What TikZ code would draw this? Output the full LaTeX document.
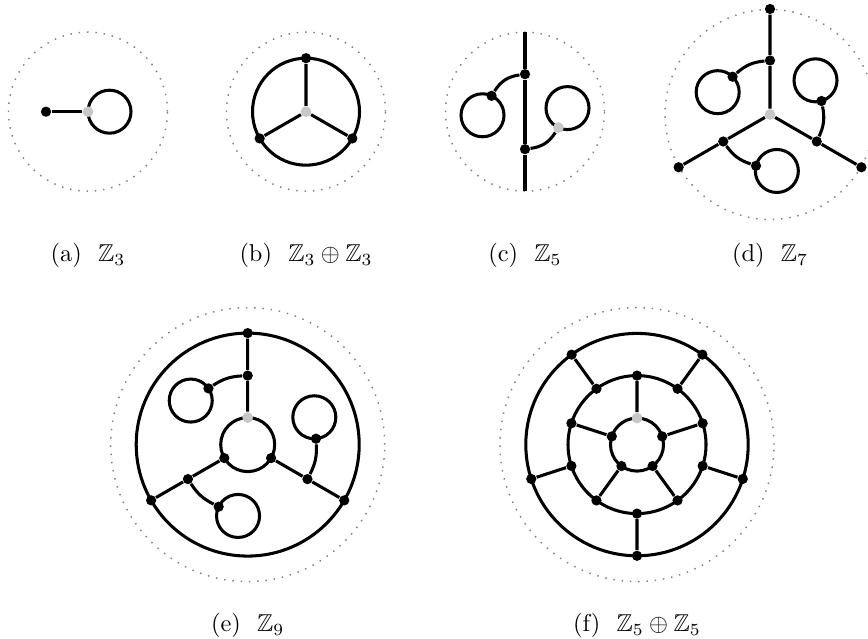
\documentclass[tikz,border=0pt]{standalone}
\usepackage{amssymb}
\begin{document}
\begin{tikzpicture}[
    x=0.41pt, y=0.41pt,
    vtx/.style={circle, fill=black, inner sep=0pt, minimum size=4.2pt},
    root/.style={circle, fill=black!22, inner sep=0pt, minimum size=4.4pt},
    edge/.style={line width=1.25pt},
    guide/.style={gray, line width=0.6pt, dash pattern=on 0.6pt off 2.8pt},
    subcap/.style={anchor=base, font=\normalsize}
  ]
  \useasboundingbox (0,0) rectangle (868,639);

  %% ── (a) Z_3 ──
  \coordinate (A) at (88,527.3);
  \draw[guide] (A) circle[radius=79.5];
  \draw[edge] ([shift={(21.5,0)}]A) circle[radius=21.5];
  \node[vtx]  (a1) at ([shift={(-42,0)}]A) {};
  \node[root] (a0) at (A) {};
  \draw[edge] (a1) -- (a0);
  \node[subcap] (capa) at (88,377) {(a)~~$\mathbb{Z}_3$};

  %% ── (b) Z_3 + Z_3 ──
  \coordinate (B) at (306,527.3);
  \draw[guide] (B) circle[radius=79.5];
  \draw[edge] (B) circle[radius=53.5];
  \node[root] (b0) at (B) {};
  \node[vtx]  (b1) at ([shift={(90:53.5)}]B) {};
  \node[vtx]  (b2) at ([shift={(210:53.5)}]B) {};
  \node[vtx]  (b3) at ([shift={(330:53.5)}]B) {};
  \draw[edge] (b0) -- (b1) (b0) -- (b2) (b0) -- (b3);
  \node[subcap] (capb) at (306,377) {(b)~~$\mathbb{Z}_3\oplus\mathbb{Z}_3$};

  %% ── (c) Z_5 ──
  \coordinate (C) at (525,527.3);
  \coordinate (ctop) at ([shift={(0,79.5)}]C);
  \coordinate (cbot) at ([shift={(0,-79.5)}]C);
  \coordinate (cl) at ([shift={(-42.5,-3.6)}]C);
  \coordinate (cr) at ([shift={(42.5,3.6)}]C);
  \draw[guide] (C) circle[radius=79.5];
  \draw[edge] (cl) circle[radius=21.5];
  \draw[edge] (cr) circle[radius=21.5];
  \node[vtx]  (c1) at ([shift={(0,37.5)}]C) {};
  \node[vtx]  (c2) at ([shift={(0,-37.5)}]C) {};
  \node[vtx]  (c3) at ([shift={(65:21.5)}]cl) {};
  \node[root] (c4) at ([shift={(245:21.5)}]cr) {};
  \draw[edge] (ctop) -- (c1) -- (c2) -- (cbot);
  \draw[edge] (c1) to[bend right=25] (c3);
  \draw[edge] (c2) to[bend right=25] (c4);
  \node[subcap] (capc) at (525,377) {(c)~~$\mathbb{Z}_5$};

  %% ── (d) Z_7 ──
  \coordinate (D) at (770,524.5);
  \coordinate (dl1) at ([shift={(156.9:56.9)}]D);
  \coordinate (dl2) at ([shift={(36.9:56.9)}]D);
  \coordinate (dl3) at ([shift={(276.9:56.9)}]D);
  \draw[guide] (D) circle[radius=105];
  \draw[edge] (dl1) circle[radius=21.5];
  \draw[edge] (dl2) circle[radius=21.5];
  \draw[edge] (dl3) circle[radius=21.5];
  \node[root] (d0) at (D) {};
  \node[vtx]  (d1) at ([shift={(90:105.5)}]D) {};
  \node[vtx]  (d2) at ([shift={(210:105.5)}]D) {};
  \node[vtx]  (d3) at ([shift={(330:105.5)}]D) {};
  \node[vtx]  (d4) at ([shift={(90:54)}]D) {};
  \node[vtx]  (d5) at ([shift={(210:54)}]D) {};
  \node[vtx]  (d6) at ([shift={(330:54)}]D) {};
  \node[vtx]  (d7) at ([shift={(46:21.5)}]dl1) {};
  \node[vtx]  (d8) at ([shift={(-74:21.5)}]dl2) {};
  \node[vtx]  (d9) at ([shift={(166:21.5)}]dl3) {};
  \draw[edge] (d0) -- (d4) -- (d1) (d0) -- (d5) -- (d2) (d0) -- (d6) -- (d3);
  \draw[edge] (d4) to[bend right=18] (d7);
  \draw[edge] (d6) to[bend right=18] (d8);
  \draw[edge] (d5) to[bend right=18] (d9);
  \node[subcap] (capd) at (770,377) {(d)~~$\mathbb{Z}_7$};

  %% ── (e) Z_9 ──
  \coordinate (E) at (247.7,194.4);
  \coordinate (el1) at ([shift={(142.3:72)}]E);
  \coordinate (el2) at ([shift={(22.3:72)}]E);
  \coordinate (el3) at ([shift={(262.3:72)}]E);
  \draw[guide] (E) circle[radius=137];
  \draw[edge] (E) circle[radius=111.5];
  \draw[edge] (E) circle[radius=27];
  \draw[edge] (el1) circle[radius=21.5];
  \draw[edge] (el2) circle[radius=21.5];
  \draw[edge] (el3) circle[radius=21.5];
  \node[root] (e0)  at ([shift={(90:27)}]E) {};
  \node[vtx]  (e1)  at ([shift={(210:27)}]E) {};
  \node[vtx]  (e2)  at ([shift={(330:27)}]E) {};
  \node[vtx]  (e3)  at ([shift={(90:69)}]E) {};
  \node[vtx]  (e4)  at ([shift={(210:69)}]E) {};
  \node[vtx]  (e5)  at ([shift={(330:69)}]E) {};
  \node[vtx]  (e6)  at ([shift={(90:111.5)}]E) {};
  \node[vtx]  (e7)  at ([shift={(210:111.5)}]E) {};
  \node[vtx]  (e8)  at ([shift={(330:111.5)}]E) {};
  \node[vtx]  (e9)  at ([shift={(34.5:21.5)}]el1) {};
  \node[vtx]  (e10) at ([shift={(-85.5:21.5)}]el2) {};
  \node[vtx]  (e11) at ([shift={(154.5:21.5)}]el3) {};
  \draw[edge] (e0) -- (e3) -- (e6) (e1) -- (e4) -- (e7) (e2) -- (e5) -- (e8);
  \draw[edge] (e3) to[bend right=15] (e9);
  \draw[edge] (e5) to[bend right=15] (e10);
  \draw[edge] (e4) to[bend right=15] (e11);
  \node[subcap] (cape) at (247.7,7) {(e)~~$\mathbb{Z}_9$};

  %% ── (f) Z_5 + Z_5 ──
  \coordinate (F) at (637,194.4);
  \draw[guide] (F) circle[radius=137];
  \draw[edge] (F) circle[radius=111.2];
  \draw[edge] (F) circle[radius=69];
  \draw[edge] (F) circle[radius=26.5];
  % inner ring
  \node[root] (f0) at ([shift={(90:26.5)}]F) {};
  \node[vtx]  (f1) at ([shift={(162:26.5)}]F) {};
  \node[vtx]  (f2) at ([shift={(234:26.5)}]F) {};
  \node[vtx]  (f3) at ([shift={(306:26.5)}]F) {};
  \node[vtx]  (f4) at ([shift={(18:26.5)}]F) {};
  % middle ring
  \node[vtx]  (f5)  at ([shift={(90:69)}]F) {};
  \node[vtx]  (f6)  at ([shift={(162:69)}]F) {};
  \node[vtx]  (f7)  at ([shift={(234:69)}]F) {};
  \node[vtx]  (f8)  at ([shift={(306:69)}]F) {};
  \node[vtx]  (f9)  at ([shift={(18:69)}]F) {};
  \node[vtx]  (f10) at ([shift={(126:69)}]F) {};
  \node[vtx]  (f11) at ([shift={(198:69)}]F) {};
  \node[vtx]  (f12) at ([shift={(270:69)}]F) {};
  \node[vtx]  (f13) at ([shift={(342:69)}]F) {};
  \node[vtx]  (f14) at ([shift={(54:69)}]F) {};
  % outer ring
  \node[vtx]  (f15) at ([shift={(126:111.2)}]F) {};
  \node[vtx]  (f16) at ([shift={(198:111.2)}]F) {};
  \node[vtx]  (f17) at ([shift={(270:111.2)}]F) {};
  \node[vtx]  (f18) at ([shift={(342:111.2)}]F) {};
  \node[vtx]  (f19) at ([shift={(54:111.2)}]F) {};
  \draw[edge] (f0) -- (f5) (f1) -- (f6) (f2) -- (f7) (f3) -- (f8) (f4) -- (f9);
  \draw[edge] (f10) -- (f15) (f11) -- (f16) (f12) -- (f17) (f13) -- (f18) (f14) -- (f19);
  \node[subcap] (capf) at (637,7) {(f)~~$\mathbb{Z}_5\oplus\mathbb{Z}_5$};

\end{tikzpicture}
\end{document}
